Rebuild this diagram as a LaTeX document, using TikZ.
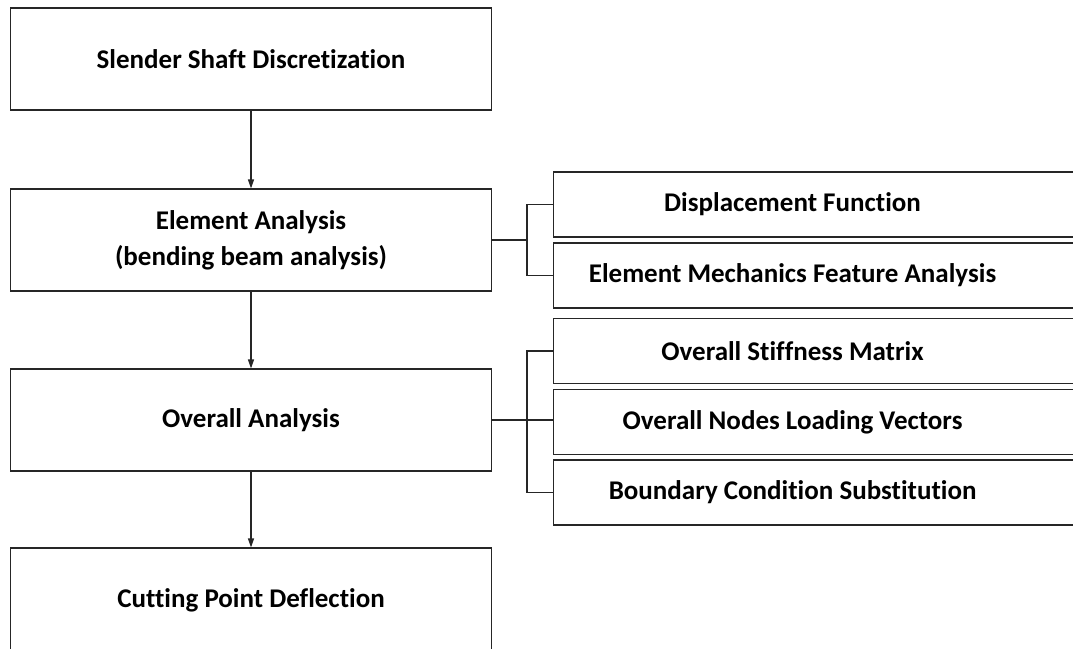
\documentclass[tikz,border=0pt]{standalone}
\usepackage{fontspec}
\setmainfont{Carlito}[Ligatures=CommonOff]
\usetikzlibrary{arrows.meta}
\begin{document}
\begin{tikzpicture}[x=1pt,y=-1pt,
  every node/.style={font=\bfseries\fontsize{27}{36}\selectfont},
  lbox/.style={draw=black!85, line width=1.1pt, minimum width=481pt, minimum height=102pt, align=center, inner sep=0pt},
  rbox/.style={draw=black!85, line width=1.1pt, minimum width=527pt, minimum height=65pt, anchor=west, inner sep=0pt},
  flow/.style={draw=black!85, line width=1.1pt, -{Triangle[length=9pt,width=6pt]}},
  tie/.style={draw=black!85, line width=1.1pt}]
\useasboundingbox (0,0) rectangle (1073,648);
\clip (0,0) rectangle (1073,648);
\fill[white] (0,0) rectangle (1073,648);
% left column
\node[lbox] (s1) at (251,59) {Slender Shaft Discretization};
\node[lbox] (s2) at (251,240) {Element Analysis\\(bending beam analysis)};
\node[lbox] (s3) at (251,420) {Overall Analysis};
\node[lbox, minimum height=104pt] (s4) at (251,600) {Cutting Point Deflection};
% right column
\node[rbox, label={[xshift=-24.5pt]center:Displacement Function}] (e1) at (553,204.5) {};
\node[rbox, label={[xshift=-24.5pt]center:Element Mechanics Feature Analysis}] (e2) at (553,275.5) {};
\node[rbox, label={[xshift=-24.5pt]center:Overall Stiffness Matrix}] (o1) at (553,351) {};
\node[rbox, label={[xshift=-24.5pt]center:Overall Nodes Loading Vectors}] (o2) at (553,422) {};
\node[rbox, label={[xshift=-24.5pt]center:Boundary Condition Substitution}] (o3) at (553,492.5) {};
% arrows
\draw[flow] (s1) -- (s2);
\draw[flow] (s2) -- (s3);
\draw[flow] (s3) -- (s4);
% brackets
\coordinate (bx) at (527,0);
\draw[tie] (s2.east) -- (bx |- s2.east);
\draw[tie] (e1.west) -| (bx |- s2.east) |- (e2.west);
\draw[tie] (s3.east) -- (o2.west |- s3.east);
\draw[tie] (o1.west) -| (bx |- s3.east) |- (o3.west);
\end{tikzpicture}
\end{document}
